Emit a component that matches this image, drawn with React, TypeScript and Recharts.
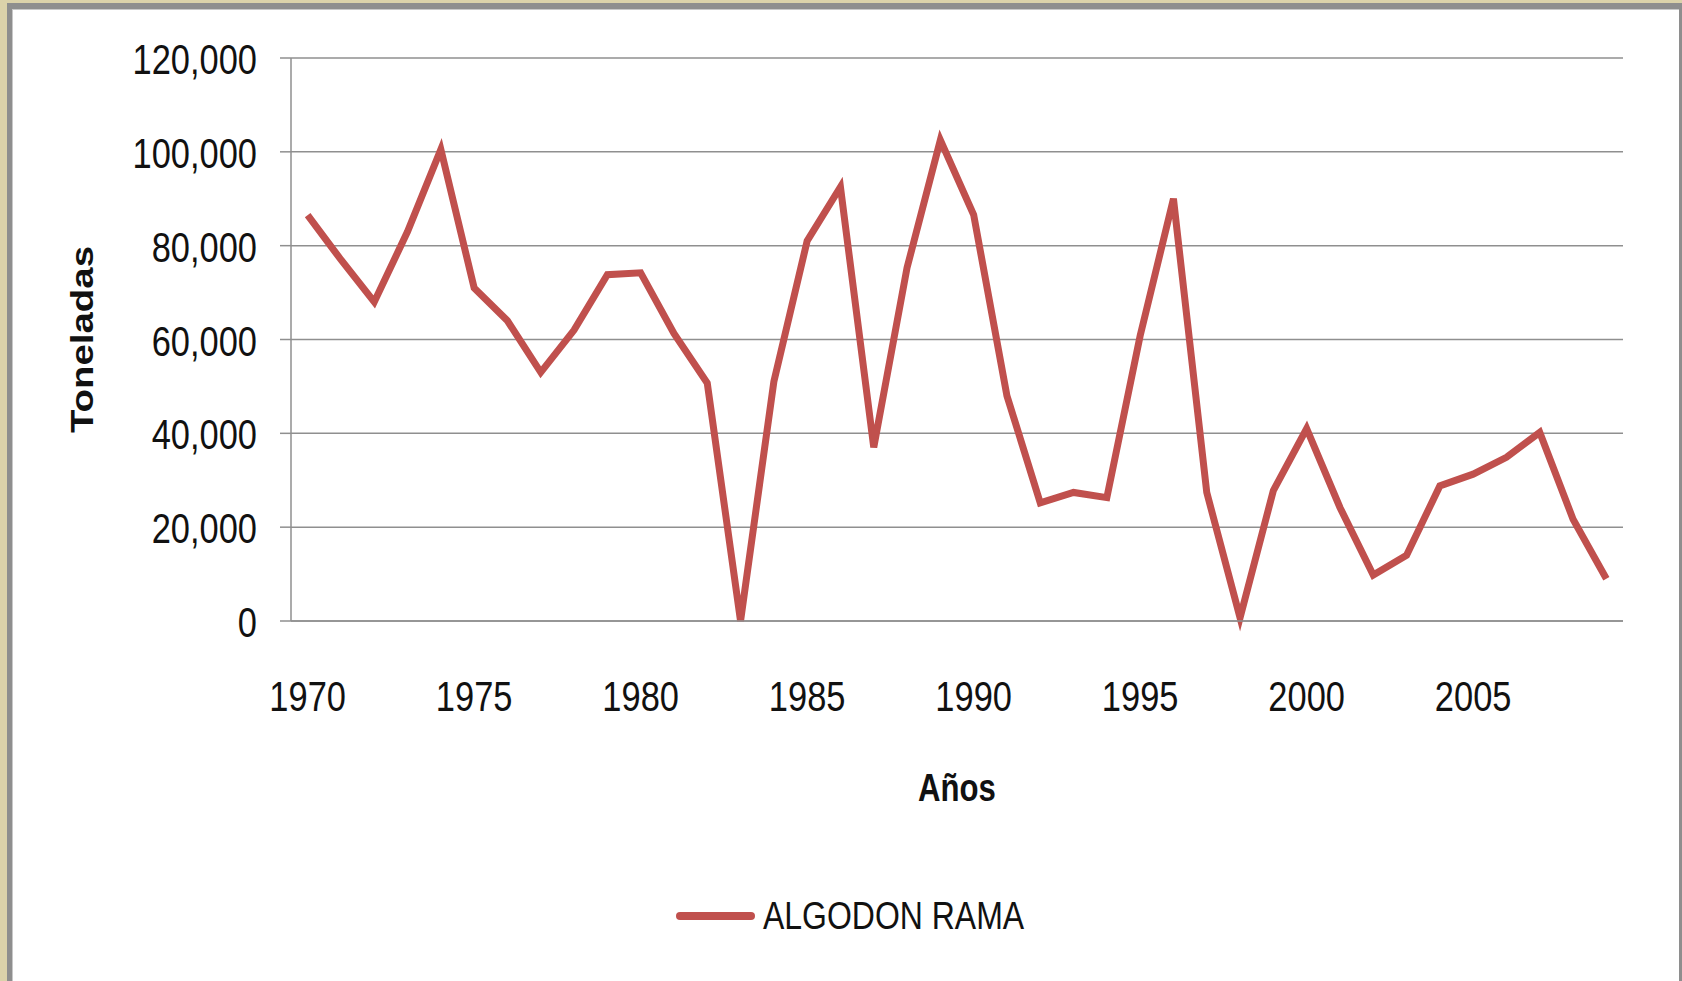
import React from 'react';
import { LineChart, Line, XAxis, YAxis, CartesianGrid, Legend } from 'recharts';

const years = [
  '1970', '1971', '1972', '1973', '1974', '1975', '1976', '1977', '1978', '1979',
  '1980', '1981', '1982', '1983', '1984', '1985', '1986', '1987', '1988', '1989',
  '1990', '1991', '1992', '1993', '1994', '1995', '1996', '1997', '1998', '1999',
  '2000', '2001', '2002', '2003', '2004', '2005', '2006', '2007', '2008', '2009',
];

const algodonRama = [
  86500, 77000, 68000, 83000, 100500, 71000, 64000, 53000, 62000, 73800,
  74200, 61300, 50700, 0, 51000, 81000, 92500, 37000, 75300, 102500,
  86600, 48000, 25200, 27400, 26300, 60800, 90000, 27400, 700, 27800,
  41000, 24200, 9800, 14000, 28800, 31300, 34900, 40200, 21700, 9000,
];

const yTicks = [0, 20000, 40000, 60000, 80000, 100000, 120000];
const seriesName = 'ALGODON RAMA';
const xTitle = 'Años';
const yTitle = 'Toneladas';

const data = years.map((year, i) => ({ year, value: algodonRama[i] }));

const RED = '#C0504D';
const GRID = '#8F8F8F';
const TEXT = '#111111';
const FONT = "'Liberation Sans', Arial, sans-serif";
const SQUEEZE = 0.82;

const fmt = (v: number) => String(v).replace(/\B(?=(\d{3})+(?!\d))/g, ',');

function YTick(props: any) {
  const { x, y, payload } = props;
  return (
    <text
      x={0}
      y={0}
      transform={`translate(${x}, ${y + 16}) scale(${SQUEEZE}, 1)`}
      textAnchor="end"
      fontFamily={FONT}
      fontSize={42}
      fill={TEXT}
    >
      {fmt(payload.value)}
    </text>
  );
}

function XTick(props: any) {
  const { x, y, payload } = props;
  return (
    <text
      x={0}
      y={0}
      transform={`translate(${x}, ${y + 90}) scale(${SQUEEZE}, 1)`}
      textAnchor="middle"
      fontFamily={FONT}
      fontSize={42}
      fill={TEXT}
    >
      {payload.value}
    </text>
  );
}

function XTitle(props: any) {
  const vb = props.viewBox || { x: 291, y: 621, width: 1332, height: 60 };
  return (
    <text
      x={0}
      y={0}
      transform={`translate(${vb.x + vb.width / 2}, ${vb.y + 180}) scale(${SQUEEZE}, 1)`}
      textAnchor="middle"
      fontFamily={FONT}
      fontWeight="bold"
      fontSize={38}
      fill={TEXT}
    >
      {xTitle}
    </text>
  );
}

function YTitle(props: any) {
  const vb = props.viewBox || { x: 0, y: 58, width: 291, height: 563 };
  const cy = vb.y + vb.height / 2;
  return (
    <text
      x={0}
      y={0}
      transform={`translate(93, ${cy}) rotate(-90) scale(1.2, 1)`}
      textAnchor="middle"
      fontFamily={FONT}
      fontWeight="bold"
      fontSize={32}
      fill={TEXT}
    >
      {yTitle}
    </text>
  );
}

function LegendContent() {
  return (
    <div style={{ position: 'relative', width: 1682, height: 60 }}>
      <svg width={1682} height={60} style={{ position: 'absolute', left: 0, top: 0, overflow: 'visible' }}>
        <line x1={680} x2={751} y1={30} y2={30} stroke={RED} strokeWidth={8} strokeLinecap="round" />
        <text
          x={0}
          y={0}
          transform={`translate(763, 43.3) scale(${SQUEEZE}, 1)`}
          fontFamily={FONT}
          fontSize={39}
          fill={TEXT}
        >
          {seriesName}
        </text>
      </svg>
    </div>
  );
}

export default function App() {
  return (
    <div
      style={{
        position: 'absolute',
        left: 0,
        top: 0,
        width: 1682,
        height: 981,
        background: '#DBD2AA',
        overflow: 'hidden',
      }}
    >
      <div style={{ position: 'absolute', left: 7, top: 3, width: 1675, height: 978, background: '#8E8E8E' }} />
      <div style={{ position: 'absolute', left: 12, top: 9, width: 1667, height: 972, background: '#C8C8C8' }} />
      <div style={{ position: 'absolute', left: 13, top: 10, width: 1666, height: 971, background: '#FFFFFF' }} />
      <div style={{ position: 'absolute', left: 0, top: 0 }}>
        <LineChart
          width={1682}
          height={981}
          data={data}
          margin={{ top: 58, right: 59, bottom: 300, left: 0 }}
        >
          <CartesianGrid vertical={false} stroke={GRID} strokeWidth={1.5} />
          <XAxis
            dataKey="year"
            scale="band"
            interval={4}
            height={60}
            tickLine={false}
            tickSize={0}
            tickMargin={0}
            axisLine={{ stroke: GRID, strokeWidth: 1.5 }}
            tick={<XTick />}
            label={<XTitle />}
          />
          <YAxis
            domain={[0, 120000]}
            ticks={yTicks}
            width={291}
            tickSize={11}
            tickMargin={23}
            tickLine={{ stroke: GRID, strokeWidth: 1.5 }}
            axisLine={{ stroke: GRID, strokeWidth: 1.5 }}
            tick={<YTick />}
            label={<YTitle />}
          />
          <Legend
            layout="horizontal"
            verticalAlign="middle"
            align="center"
            wrapperStyle={{ top: 886, left: 0, width: 1682, height: 60 }}
            content={() => <LegendContent />}
          />
          <Line
            type="linear"
            dataKey="value"
            name={seriesName}
            stroke={RED}
            strokeWidth={7}
            dot={false}
            activeDot={false}
            isAnimationActive={false}
          />
        </LineChart>
      </div>
    </div>
  );
}
